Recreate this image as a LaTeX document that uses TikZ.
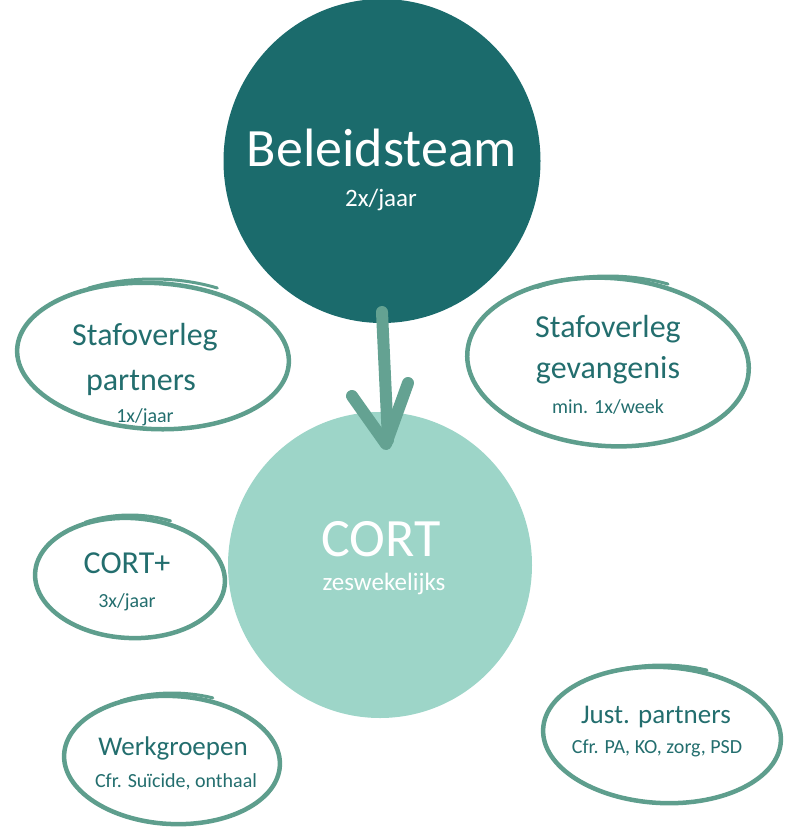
\documentclass[tikz,border=0pt]{standalone}
\usepackage{fontspec}
\setmainfont{Carlito}
\usetikzlibrary{shapes.geometric}
\definecolor{darkteal}{HTML}{1B6B6C}
\definecolor{lightteal}{HTML}{9DD5C8}
\definecolor{strokec}{HTML}{5E9E8D}
\definecolor{arrowc}{HTML}{64A292}
\definecolor{textc}{HTML}{236E6E}
\begin{document}
\begin{tikzpicture}[x=1pt,y=-1pt,
  bubble/.style={ellipse,draw=strokec,line width=4.5pt,inner sep=0pt},
  brush/.style={draw=strokec,line width=3pt,line cap=round},
  blob/.style={ellipse,inner sep=0pt},
  lbl/.style={text=textc,inner sep=0pt,anchor=base},
  wlbl/.style={text=white,inner sep=0pt,anchor=base},
  big/.style={font=\fontsize{54}{60}\selectfont},
  mid/.style={font=\fontsize{32}{36}\selectfont},
  midsmall/.style={font=\fontsize{27}{31}\selectfont},
  small/.style={font=\fontsize{20}{24}\selectfont},
  wsmall/.style={font=\fontsize{25}{29}\selectfont},
  arr/.style={draw=arrowc,line width=12pt,line cap=round,line join=round}]
\useasboundingbox (0,0) rectangle (786,830);
% big circles
\node[blob,fill=darkteal,minimum width=317pt,minimum height=324pt] (bt) at (382,161) {};
\node[blob,fill=lightteal,minimum width=304pt,minimum height=306pt] (cort) at (380,565) {};
\node[wlbl,big] (btt) at (382,166) {Beleidsteam};
\node[wlbl,wsmall] (bts) at (381,206) {2x/jaar};
\node[wlbl,big] (cortt) at (381,556) {CORT};
\node[wlbl,wsmall] (corts) at (384,590) {zeswekelijks};
% arrow
\coordinate (a1) at (382,312);
\coordinate (a2) at (388,440);
\coordinate (al) at (352,396);
\coordinate (ar) at (408,383);
\coordinate (tip) at (386,444);
\draw[arr] (a1) -- (a2);
\draw[arr] (al) -- (tip) -- (ar);
% Stafoverleg partners
\node[bubble,minimum width=272pt,minimum height=146pt,rotate=-3] (sp) at (153,356) {};
\draw[brush] (sp.center) ++(62:137pt and 77pt) arc[start angle=62,end angle=118,x radius=137pt,y radius=77pt];
\node[lbl,mid] (sp1) at (145,345) {Stafoverleg};
\node[lbl,mid] (sp2) at (141,390) {partners};
\node[lbl,small] (sp3) at (145,422) {1x/jaar};
% Stafoverleg gevangenis
\node[bubble,minimum width=282pt,minimum height=168pt,rotate=-4] (sg) at (608,362) {};
\draw[brush] (sg.center) ++(65:142pt and 86pt) arc[start angle=65,end angle=120,x radius=142pt,y radius=86pt];
\node[lbl,mid] (sg1) at (608,337) {Stafoverleg};
\node[lbl,mid] (sg2) at (608,378) {gevangenis};
\node[lbl,small] (sg3) at (608,413) {min. 1x/week};
% CORT+
\node[bubble,minimum width=190pt,minimum height=120pt,rotate=-3] (cp) at (130,578) {};
\draw[brush] (cp.center) ++(65:96pt and 63pt) arc[start angle=65,end angle=118,x radius=96pt,y radius=63pt];
\node[lbl,mid] (cp1) at (127,573) {CORT+};
\node[lbl,small] (cp2) at (127,607) {3x/jaar};
% Werkgroepen
\node[bubble,minimum width=216pt,minimum height=128pt,rotate=-3] (wg) at (172,760) {};
\draw[brush] (wg.center) ++(68:109pt and 67pt) arc[start angle=68,end angle=118,x radius=109pt,y radius=67pt];
\node[lbl,midsmall] (wg1) at (173,755) {Werkgroepen};
\node[lbl,small] (wg2) at (176,787) {Cfr. Suïcide, onthaal};
% Just. partners
\node[bubble,minimum width=238pt,minimum height=136pt,rotate=-3] (jp) at (662,735) {};
\draw[brush] (jp.center) ++(68:120pt and 70pt) arc[start angle=68,end angle=112,x radius=120pt,y radius=70pt];
\node[lbl,midsmall] (jp1) at (656,723) {Just. partners};
\node[lbl,small] (jp2) at (657,753) {Cfr. PA, KO, zorg, PSD};
\end{tikzpicture}
\end{document}
